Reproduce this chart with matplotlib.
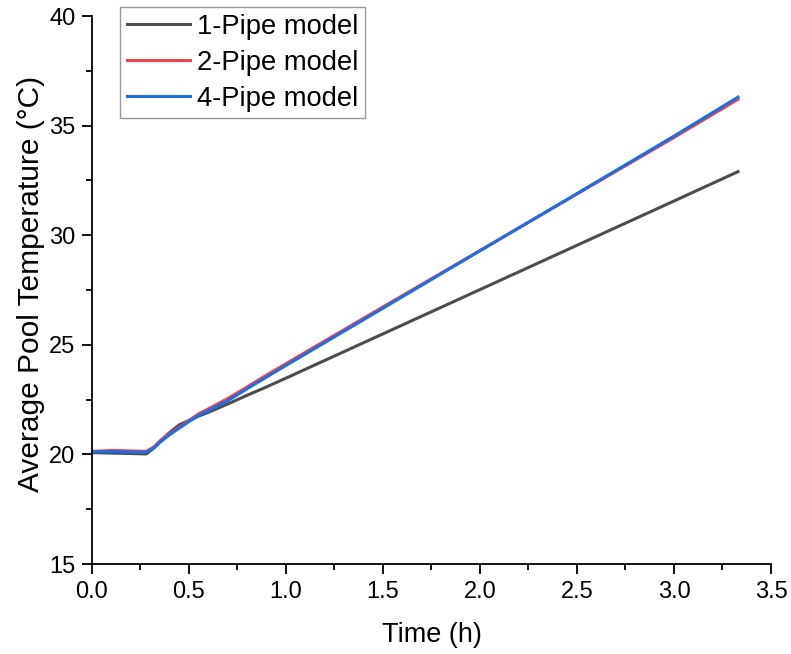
import matplotlib
matplotlib.use("Agg")
import matplotlib.pyplot as plt
from matplotlib.ticker import MultipleLocator, FormatStrFormatter

plt.rcParams['font.family'] = ['Liberation Sans', 'DejaVu Sans']

# Simulated average pool temperature for three pipe models
time_h = [0.0, 0.1, 0.2, 0.28, 0.32, 0.35, 0.4, 0.45, 0.5, 0.55, 0.6, 0.7,
          0.8, 0.9, 1.0, 1.5, 2.0, 2.5, 3.0, 3.33]
pipe1 = [20.08, 20.06, 20.04, 20.02, 20.30, 20.60, 21.00, 21.35, 21.55, 21.75,
         21.92, 22.30, 22.70, 23.08, 23.48, 25.50, 27.52, 29.54, 31.56, 32.90]
pipe2 = [20.14, 20.18, 20.16, 20.14, 20.35, 20.60, 20.95, 21.25, 21.55, 21.85,
         22.08, 22.55, 23.08, 23.62, 24.14, 26.73, 29.30, 31.88, 34.46, 36.20]
pipe4 = [20.12, 20.13, 20.11, 20.10, 20.30, 20.55, 20.90, 21.20, 21.50, 21.78,
         22.00, 22.45, 23.00, 23.53, 24.06, 26.67, 29.29, 31.90, 34.52, 36.30]

labels = ['1-Pipe model', '2-Pipe model', '4-Pipe model']
colors = ['#4d4d4d', '#f0424a', '#1f6de0']

fig = plt.figure(figsize=(7.91, 6.54), dpi=100)
ax = fig.add_axes([0.1163, 0.1376, 0.8584, 0.8379])

for series, lab, col in zip([pipe1, pipe2, pipe4], labels, colors):
    ax.plot(time_h, series, color=col, lw=2.2, label=lab)

ax.set_xlim(0, 3.5)
ax.set_ylim(15, 40)
ax.xaxis.set_major_locator(MultipleLocator(0.5))
ax.xaxis.set_minor_locator(MultipleLocator(0.25))
ax.yaxis.set_major_locator(MultipleLocator(5))
ax.yaxis.set_minor_locator(MultipleLocator(2.5))
ax.xaxis.set_major_formatter(FormatStrFormatter('%.1f'))

for s in ['top', 'right']:
    ax.spines[s].set_visible(False)
for s in ['left', 'bottom']:
    ax.spines[s].set_linewidth(1.3)

ax.tick_params(which='major', direction='out', length=7, width=1.3,
               labelsize=17, pad=5)
ax.tick_params(which='minor', direction='out', length=4, width=1.3)

ax.set_xlabel('Time (h)', fontsize=19.5, labelpad=14)
ax.set_ylabel('Average Pool Temperature (°C)', fontsize=21.5, labelpad=3)
ax.yaxis.label.set_y(0.511)

leg = fig.legend(loc='upper left', bbox_to_anchor=(120 / 791, 1 - 7 / 654),
                 fontsize=19.7, frameon=True, fancybox=False, borderaxespad=0,
                 handlelength=2.3, handletextpad=0.25, labelspacing=0.36,
                 borderpad=0.25)
leg.get_frame().set_edgecolor('#808080')
leg.get_frame().set_linewidth(1.0)

fig.savefig('out.png', dpi=100)
